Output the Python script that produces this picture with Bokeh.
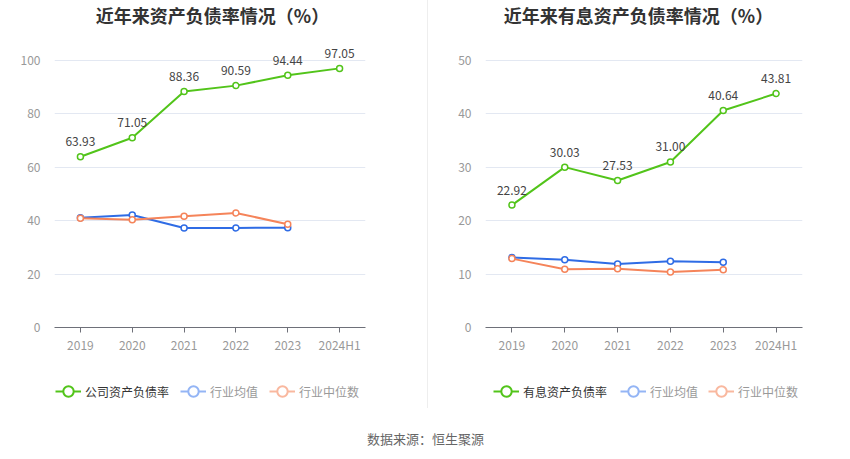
from bokeh.plotting import figure
from bokeh.models import (ColumnDataSource, FixedTicker, Range1d, FactorRange, Legend,
                          LegendItem, Div)
from bokeh.layouts import row, column
from bokeh.embed import file_html
from bokeh.resources import INLINE
from bokeh.core.properties import value

# ---------------- data ----------------
categories = ["2019", "2020", "2021", "2022", "2023", "2024H1"]
industry_categories = ["2019", "2020", "2021", "2022", "2023"]

debt_ratio = [63.93, 71.05, 88.36, 90.59, 94.44, 97.05]
debt_industry_avg = [41.1, 42.1, 37.3, 37.3, 37.4]
debt_industry_median = [40.9, 40.4, 41.7, 42.9, 38.7]

interest_debt_ratio = [22.92, 30.03, 27.53, 31.00, 40.64, 43.81]
interest_industry_avg = [13.1, 12.7, 11.9, 12.4, 12.2]
interest_industry_median = [12.9, 10.9, 11.0, 10.4, 10.8]

left_ticks = [0, 20, 40, 60, 80, 100]
right_ticks = [0, 10, 20, 30, 40, 50]

left_title = "近年来资产负债率情况（%）"
right_title = "近年来有息资产负债率情况（%）"
left_series = ["公司资产负债率", "行业均值", "行业中位数"]
right_series = ["有息资产负债率", "行业均值", "行业中位数"]
source_text = "数据来源：恒生聚源"

# ---------------- style ----------------
FONT = "Noto Sans CJK SC"
GREEN = "#52c41a"
BLUE = "#2f6ce5"
ORANGE = "#f5845a"
BLUE_LIGHT = "#94b5f5"
ORANGE_LIGHT = "#f9b89f"

FIG_H = 372
FRAME_H = 327
LEG_H = 36
SRC_H = 51
NAN = float("nan")


def make_panel(title, company, avg, med, ticks, unit_px, width,
               border_left, border_right, title_center):
    frame_w = width - border_left - border_right
    band = frame_w / len(categories)
    ymax = FRAME_H / unit_px
    p = figure(x_range=FactorRange(*categories, range_padding=0),
               y_range=Range1d(0, ymax),
               width=width, height=FIG_H, output_backend="svg",
               toolbar_location=None, tools="",
               min_border_left=border_left, min_border_right=border_right,
               min_border_top=0, min_border_bottom=FIG_H - FRAME_H)
    p.outline_line_color = None
    p.background_fill_color = "white"
    p.border_fill_color = "white"

    p.xgrid.grid_line_color = None
    p.ygrid.ticker = FixedTicker(ticks=ticks)
    p.ygrid.grid_line_color = "#e3e8f2"
    p.ygrid.grid_line_width = 1

    p.yaxis.ticker = FixedTicker(ticks=ticks)
    p.yaxis.axis_line_color = None
    p.yaxis.major_tick_line_color = None
    p.yaxis.minor_tick_line_color = None
    p.yaxis.major_label_standoff = 8
    p.yaxis.major_label_text_color = "#999999"
    p.yaxis.major_label_text_font = FONT
    p.yaxis.major_label_text_font_size = "12px"

    p.xaxis.axis_line_color = "#6e7079"
    p.xaxis.major_tick_line_color = "#6e7079"
    p.xaxis.major_tick_out = 5
    p.xaxis.major_tick_in = 0
    p.xaxis.major_label_standoff = 3
    p.xaxis.major_label_text_color = "#999999"
    p.xaxis.major_label_text_font = FONT
    p.xaxis.major_label_text_font_size = "12px"

    # industry series
    for vals, col in ((avg, BLUE), (med, ORANGE)):
        src = ColumnDataSource(dict(x=industry_categories, y=vals))
        p.line("x", "y", source=src, line_color=col, line_width=2)
        p.scatter("x", "y", source=src, marker="circle", size=6,
                  fill_color="white", line_color=col, line_width=1.5)

    # company series
    csrc = ColumnDataSource(dict(x=categories, y=company,
                                 lab=[f"{v:.2f}" for v in company]))
    p.line("x", "y", source=csrc, line_color=GREEN, line_width=2)
    p.scatter("x", "y", source=csrc, marker="circle", size=6,
              fill_color="white", line_color=GREEN, line_width=1.5)
    p.text("x", "y", text="lab", source=csrc, y_offset=-15,
           text_align="center", text_baseline="middle",
           text_font=value(FONT), text_font_size="12px", text_color="#444444")

    # title (anchored on the 3rd category, shifted to the panel centre)
    title_y = (FRAME_H - 14) / unit_px
    off = title_center - 2.5 * band
    p.text(x=[categories[2]], y=[title_y], text=[title], x_offset=off,
           text_align="center", text_baseline="middle",
           text_font=value(FONT), text_font_size="18px",
           text_font_style="bold", text_color="#333333")
    return p


def make_legend(names, width, xs):
    f = figure(width=width, height=LEG_H, x_range=Range1d(0, width),
               y_range=Range1d(0, LEG_H), output_backend="svg",
               toolbar_location=None, tools="", min_border=0)
    f.axis.visible = False
    f.grid.visible = False
    f.outline_line_color = None
    specs = [(names[0], GREEN, "#333333"),
             (names[1], BLUE_LIGHT, "#999999"),
             (names[2], ORANGE_LIGHT, "#999999")]
    for (name, col, tcol), lx in zip(specs, xs):
        esrc = ColumnDataSource(dict(x=[NAN], y=[NAN]))
        lr = f.line("x", "y", source=esrc, line_color=col, line_width=2)
        cr = f.scatter("x", "y", source=esrc, marker="circle", size=11,
                       fill_color="white", line_color=col, line_width=2)
        leg = Legend(items=[LegendItem(label=name, renderers=[lr, cr])],
                     location=(lx, 4), orientation="horizontal",
                     glyph_width=26, glyph_height=26, label_height=14,
                     label_standoff=4, padding=0, margin=0, spacing=0,
                     border_line_color=None, background_fill_alpha=0,
                     label_text_font=FONT, label_text_font_size="12px",
                     label_text_color=tcol)
        f.add_layout(leg, "center")
    return f


W1, W2 = 427, 422
p1 = make_panel(left_title, debt_ratio, debt_industry_avg, debt_industry_median,
                left_ticks, 2.67, W1, 54, 62, 158)
p2 = make_panel(right_title, interest_debt_ratio, interest_industry_avg,
                interest_industry_median, right_ticks, 5.34, W2, 57, 48, 153)
l1 = make_legend(left_series, W1, [55, 180, 269])
l2 = make_legend(right_series, W2, [65, 192, 280])

sep1 = Div(text="", width=1, height=FIG_H, margin=(0, 0, 0, 0),
           styles={"background-color": "#eeeeee"})
sep2 = Div(text="", width=1, height=LEG_H, margin=(0, 0, 0, 0),
           styles={"background-color": "#eeeeee"})

p3 = figure(width=W1 + W2 + 1, height=SRC_H, x_range=Range1d(0, W1 + W2 + 1),
            y_range=Range1d(0, SRC_H), output_backend="svg",
            toolbar_location=None, tools="", min_border=0)
p3.axis.visible = False
p3.grid.visible = False
p3.outline_line_color = None
p3.text(x=[425], y=[SRC_H - 30], text=[source_text], text_align="center",
        text_baseline="middle", text_font=value(FONT), text_font_size="13px",
        text_color="#666666")

layout = column(row(p1, sep1, p2), row(l1, sep2, l2), p3)
open("out.html", "w").write(file_html(layout, INLINE))
